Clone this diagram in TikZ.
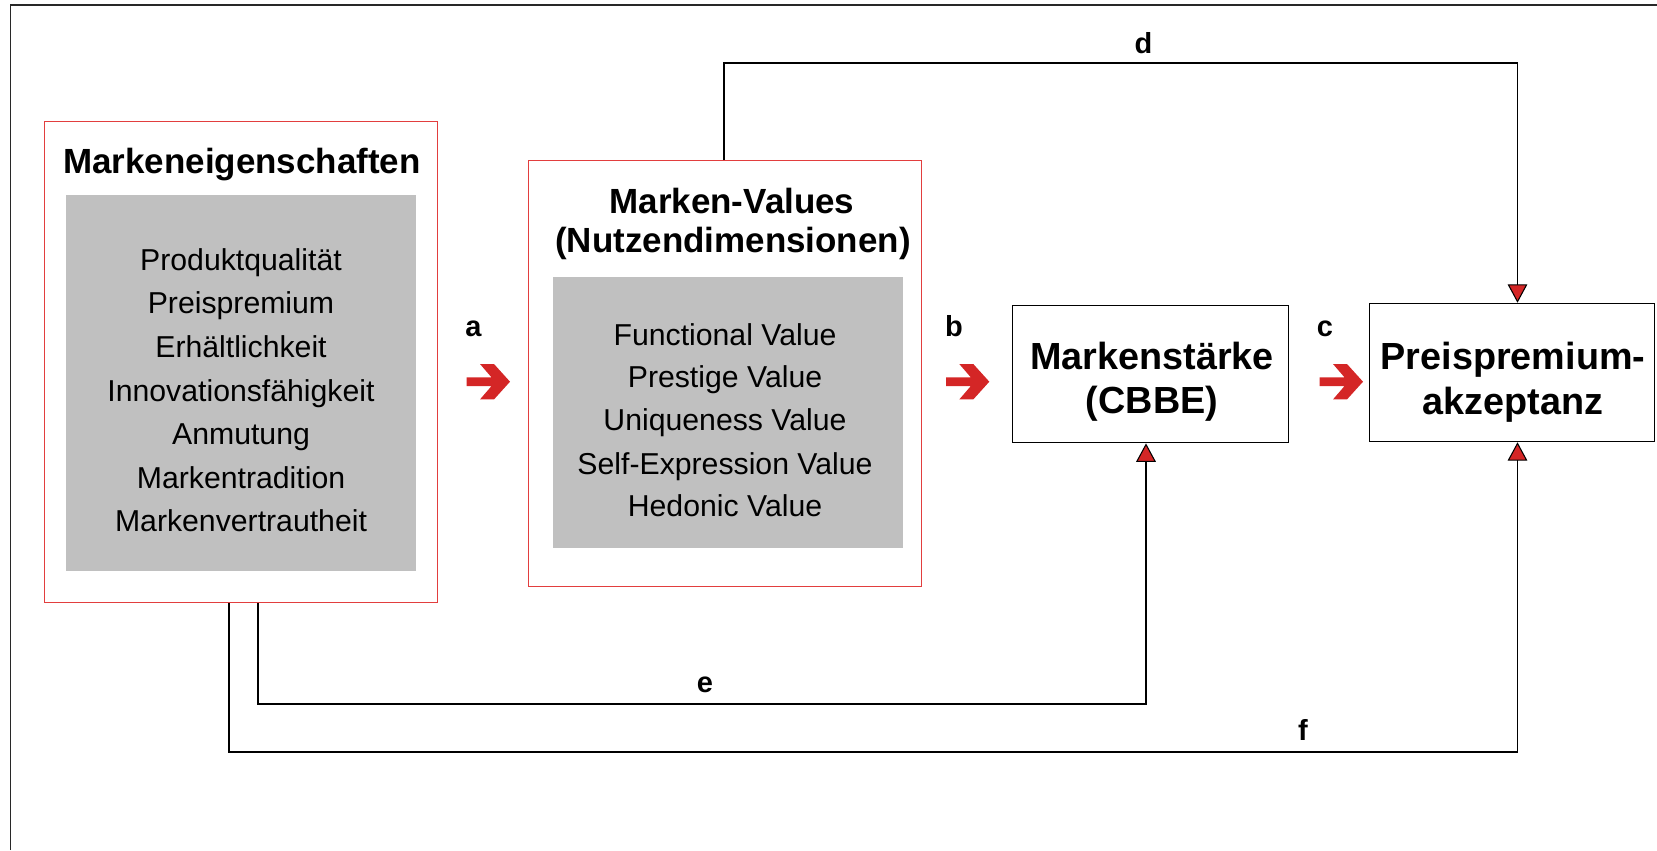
\documentclass[tikz,border=0pt]{standalone}
\usepackage{fontspec}
\setmainfont{Liberation Sans}
\usetikzlibrary{arrows.meta,calc}
\definecolor{boxred}{RGB}{226,62,62}
\definecolor{arrowred}{RGB}{212,38,38}
\definecolor{boxgray}{RGB}{192,192,192}
\definecolor{framegray}{RGB}{40,40,40}
\begin{document}
\begin{tikzpicture}[x=0.02cm, y=-0.02cm,
  redbox/.style={draw=boxred, line width=0.6pt, fill=white, inner sep=0pt},
  graybox/.style={fill=boxgray, draw=none, inner sep=0pt},
  blackbox/.style={draw=black, line width=0.6pt, fill=white, inner sep=0pt},
  bodytxt/.style={anchor=base, inner sep=0pt, font=\fontsize{17.2}{20}\selectfont},
  hdrtxt/.style={anchor=base, inner sep=0pt, font=\fontsize{19.9}{23}\selectfont\bfseries},
  bigtxt/.style={anchor=base, inner sep=0pt, font=\fontsize{21.5}{25}\selectfont\bfseries},
  lbltxt/.style={anchor=base, inner sep=0pt, font=\fontsize{16.5}{19}\selectfont\bfseries},
  conn/.style={draw=black, line width=0.6pt},
  tri/.style={-{Triangle[length=10.5pt, width=11.2pt, fill=arrowred]}},
  redarrow/.pic={\fill[arrowred] (-43.3,-4.35) -- (-18.5,-4.35) -- (-30,-17.7) -- (-16,-17.7) -- (0,0) -- (-16,17.7) -- (-30,17.7) -- (-18.5,4.35) -- (-43.3,4.35) -- cycle;}
]
\useasboundingbox (0,0) rectangle (1657,850);
% outer frame (left and top only)
\draw[framegray, line width=0.75pt] (10.7,850) -- (10.7,5) -- (1657,5);

% boxes
\node[redbox, minimum width=7.86cm, minimum height=9.62cm] (box1) at (241,362) {};
\node[graybox, minimum width=7.02cm, minimum height=7.52cm] (gray1) at (241,382.6) {};
\node[redbox, minimum width=7.87cm, minimum height=8.52cm] (box2) at (725,373.5) {};
\node[graybox, minimum width=7.0cm, minimum height=5.43cm] (gray2) at (727.7,412.7) {};
\node[blackbox, minimum width=5.51cm, minimum height=2.75cm] (ms) at (1150.5,374.1) {};
\node[blackbox, minimum width=5.70cm, minimum height=2.77cm] (pp) at (1511.9,372.5) {};

% texts box 1
\node[hdrtxt] (h1) at (242,173) {Markeneigenschaften};
\node[bodytxt] (p1) at (241,270) {Produktqualität};
\node[bodytxt] (p2) at (241,313) {Preispremium};
\node[bodytxt] (p3) at (241,357) {Erhältlichkeit};
\node[bodytxt] (p4) at (241,401) {Innovationsfähigkeit};
\node[bodytxt] (p5) at (241,444) {Anmutung};
\node[bodytxt] (p6) at (241,488) {Markentradition};
\node[bodytxt] (p7) at (241,531) {Markenvertrautheit};

% texts box 2
\node[hdrtxt] (h2a) at (732,213.4) {Marken-Values};
\node[hdrtxt] (h2b) at (733,252.6) {(Nutzendimensionen)};
\node[bodytxt] (v1) at (725,345) {Functional Value};
\node[bodytxt] (v2) at (725,387) {Prestige Value};
\node[bodytxt] (v3) at (725,430.5) {Uniqueness Value};
\node[bodytxt] (v4) at (725,474) {Self-Expression Value};
\node[bodytxt] (v5) at (725,516) {Hedonic Value};

% Markenstärke / Preispremium
\node[bigtxt] (ms1) at (1152,369.6) {Markenstärke};
\node[bigtxt] (ms2) at (1152,413) {(CBBE)};
\node[bigtxt] (pp1) at (1513,369.6) {Preispremium-};
\node[bigtxt] (pp2) at (1513,414) {akzeptanz};

% big red arrows
\pic at (510,381.7) {redarrow};
\pic at (989.3,381.7) {redarrow};
\pic at (1363,381.7) {redarrow};

% labels
\node[lbltxt] (la) at (473.5,336) {a};
\node[lbltxt] (lb) at (954,336) {b};
\node[lbltxt] (lc) at (1325,336) {c};
\node[lbltxt] (ld) at (1143.5,53) {d};
\node[lbltxt] (le) at (705,692) {e};
\node[lbltxt] (lf) at (1303,740) {f};

% connectors
\coordinate (d1) at (724,63);
\coordinate (d2) at (1517.5,63);
\draw[conn, tri] (d1 |- box2.north) -- (d1) -- (d2) -- (d2 |- pp.north);

\coordinate (e1) at (258,704);
\coordinate (e2) at (1146,704);
\draw[conn, tri] (e1 |- box1.south) -- (e1) -- (e2) -- (e2 |- ms.south);

\coordinate (f1) at (229,752);
\coordinate (f2) at (1517.5,752);
\draw[conn, tri] (f1 |- box1.south) -- (f1) -- (f2) -- (f2 |- pp.south);
\end{tikzpicture}
\end{document}
